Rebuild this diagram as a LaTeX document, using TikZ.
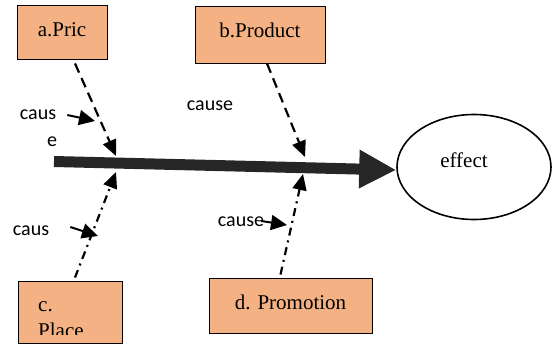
\documentclass[tikz,border=0pt]{standalone}
\usepackage{fontspec}
\setmainfont{Liberation Serif}
\newfontfamily\labelfont{Carlito}
\usetikzlibrary{positioning,arrows.meta,shapes.geometric}
\definecolor{boxfill}{HTML}{F4B183}
\definecolor{spinegray}{HTML}{262626}

\begin{document}
\begin{tikzpicture}[x=1pt,y=-1pt,
  factor/.style={draw,fill=boxfill,line width=0.9pt,font=\fontsize{21}{22}\selectfont},
  causetext/.style={font=\labelfont\fontsize{20}{22}\selectfont,inner sep=0pt},
  dashcause/.style={line width=2.2pt,dash pattern=on 10pt off 6pt,-{Triangle[length=16pt,width=14pt]}},
  dotcause/.style={line width=2.2pt,dash pattern=on 8pt off 5pt on 2pt off 5pt,-{Triangle[length=16pt,width=14pt]}},
  smallarrow/.style={line width=2pt,-{Triangle[length=16pt,width=15pt]}}]
  \useasboundingbox (0,0) rectangle (552,345);

  % the four factors
  \node[factor,minimum width=90pt,minimum height=54pt,text depth=4pt] (price) at (62,32) {a.Pric};
  \node[factor,minimum width=130pt,minimum height=57pt,text depth=9pt] (product) at (260,34.5) {b.Product};
  \node[factor,minimum width=104pt,minimum height=62pt] (place) at (70,312) {};
  \node[factor,minimum width=163pt,minimum height=55pt,text depth=7pt] (promotion) at (290.5,305.5) {d. Promotion};
  \begin{scope}
    \clip (place.north west) rectangle ([yshift=9pt]place.south east);
    \node[anchor=base west,inner sep=0pt,font=\fontsize{21}{22}\selectfont] (placeA) at (38,311) {c.};
    \node[anchor=base west,inner sep=0pt,font=\fontsize{21}{22}\selectfont] (placeB) at (38,337) {Place};
  \end{scope}

  % effect
  \node[ellipse,draw,line width=1.6pt,minimum width=154pt,minimum height=105pt,inner sep=0pt] (effect) at (474,167) {};
  \node[font=\fontsize{21}{22}\selectfont,inner sep=0pt] (effecttext) at (464,160) {effect};

  % spine
  \coordinate (tail) at (54,161.5);
  \draw[spinegray,line width=11pt,-{Triangle[length=37pt,width=36pt]}] (tail) -- ([yshift=-3pt]effect.west);

  % cause arrows
  \coordinate (hitA) at (116,156);
  \coordinate (hitB) at (305,157);
  \coordinate (hitC) at (116,172);
  \coordinate (hitD) at (303,174);
  \draw[dashcause] ([shift={(13,4)}]price.south) -- (hitA);
  \draw[dashcause] ([shift={(7,0)}]product.south) -- (hitB);
  \draw[dotcause] ([shift={(5,-3)}]place.north) -- (hitC);
  \draw[dotcause] ([shift={(-10,-3)}]promotion.north) -- (hitD);

  % labels
  \node[causetext] (causA) at (38,115) {caus};
  \node[causetext] (causAe) at (52,142) {e};
  \node[causetext] (causeB) at (210,106) {cause};
  \node[causetext] (causC) at (31,231) {caus};
  \node[causetext] (causeD) at (241,222) {cause};

  \coordinate (tipA) at (95,121);
  \coordinate (tipC) at (98,236);
  \coordinate (tipD) at (287,225);
  \draw[smallarrow] ([xshift=11pt]causA.east) -- (tipA);
  \draw[smallarrow] ([shift={(21,-4)}]causC.east) -- (tipC);
  \draw[smallarrow] ([shift={(-3,-1)}]causeD.east) -- (tipD);
\end{tikzpicture}
\end{document}
